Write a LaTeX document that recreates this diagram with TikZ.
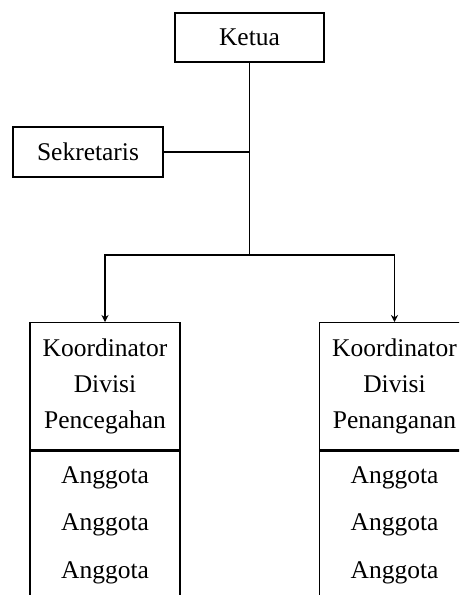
\documentclass[tikz,border=0pt]{standalone}
\usepackage{fontspec}
\setmainfont{Liberation Serif}
\usetikzlibrary{arrows.meta}
\begin{document}
\begin{tikzpicture}[x=1pt,y=-1pt,
  every node/.style={font=\fontsize{25.5}{36}\selectfont, inner sep=0pt},
  box/.style={draw, line width=1.3pt},
  line/.style={line width=1.3pt},
  arr/.style={line width=1.3pt, -{Stealth[length=7pt,width=7pt]}}]
\useasboundingbox (0,0) rectangle (459,595);
\clip (0,0) rectangle (459,595);
% top boxes
\node[box, minimum width=149pt, minimum height=49pt] (ketua) at (249.5,37.5) {Ketua};
\node[box, minimum width=150pt, minimum height=50pt] (sek) at (88,152) {Sekretaris};
% coordinator boxes
\node[box, minimum width=150pt, minimum height=127pt, anchor=north, align=center] (kp) at (105,322) {Koordinator\\Divisi\\Pencegahan};
\node[box, minimum width=150pt, minimum height=170pt, anchor=north] (kpa) at (kp.south) {};
\node[box, minimum width=150pt, minimum height=127pt, anchor=north, align=center] (kn) at (394.5,322) {Koordinator\\Divisi\\Penanganan};
\node[box, minimum width=150pt, minimum height=170pt, anchor=north] (kna) at (kn.south) {};
% members
\node[anchor=base] (p1) at (105,483) {Anggota};
\node[anchor=base] (p2) at (105,530) {Anggota};
\node[anchor=base] (p3) at (105,578) {Anggota};
\node[anchor=base] (n1) at (394.5,483) {Anggota};
\node[anchor=base] (n2) at (394.5,530) {Anggota};
\node[anchor=base] (n3) at (394.5,578) {Anggota};
% connectors
\coordinate (junc) at (ketua.south |- 0,255);
\draw[line] (ketua.south) -- (junc);
\draw[line] (sek.east) -- (sek.east -| ketua.south);
\draw[arr] (junc) -| (kp.north);
\draw[arr] (junc) -| (kn.north);
\end{tikzpicture}
\end{document}
